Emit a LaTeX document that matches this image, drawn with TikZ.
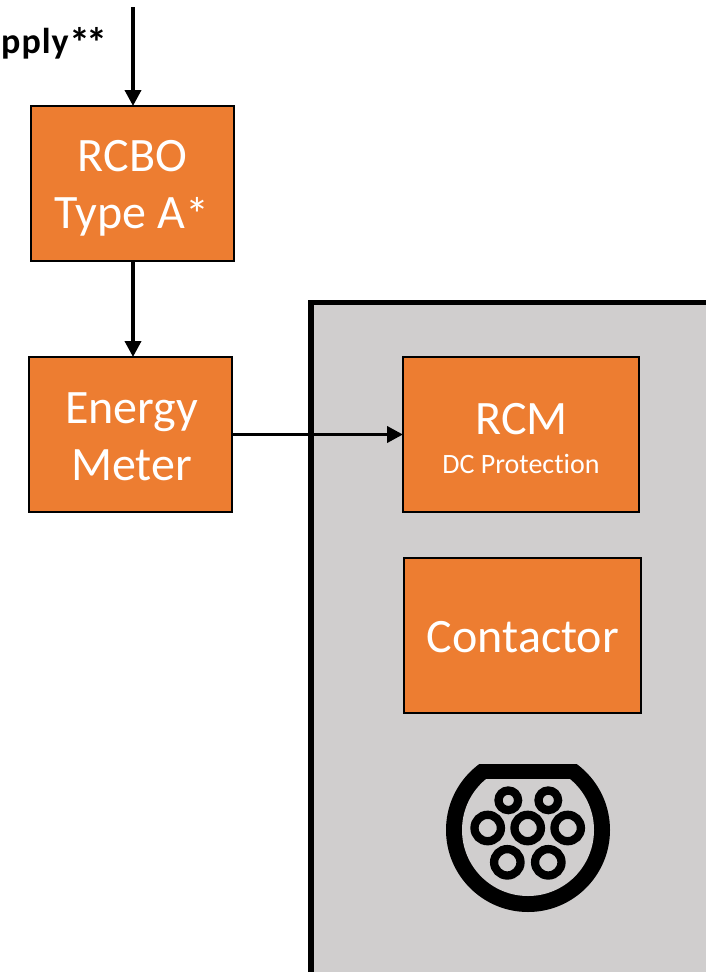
\documentclass[tikz,border=0pt]{standalone}
\usepackage{fontspec}
\setmainfont[Ligatures=NoCommon]{Carlito}
\usetikzlibrary{arrows.meta}
\definecolor{orangebox}{HTML}{ED7D31}
\definecolor{panelgray}{HTML}{D0CECE}
\tikzset{
  blockbox/.style={draw=black,fill=orangebox,line width=2.8pt,outer sep=0pt,inner sep=0pt,
    text=white,align=center,font=\fontsize{48}{56}\selectfont},
  blocktext/.style={text=white,font=\fontsize{48}{56}\selectfont,anchor=base,inner sep=0pt},
  flow/.style={draw=black,line width=3.8pt,-{Triangle[length=16pt,width=16pt]}},
  pinring/.style={draw=black,fill=panelgray}
}
\begin{document}
\begin{tikzpicture}[x=1pt,y=-1pt]
\useasboundingbox (0,0) rectangle (705,972);
% enclosure
\path[draw=black,fill=panelgray,line width=5.2pt] (720,302.5) -- (311,302.5) -- (311,990) -- (720,990) -- cycle;
% blocks
\node[blockbox,minimum width=203pt,minimum height=155pt] (rcbo) at (132.5,183.5) {};
\node[blocktext] (rcbotext) at (132.5,171) {RCBO};
\node[blocktext] (typetext) at (132,228) {Type A\raisebox{-3pt}{*}};
\node[blockbox,minimum width=203pt,minimum height=155pt] (meter) at (130.5,434.5) {};
\node[blocktext] (metertexta) at (131.5,423) {Energy};
\node[blocktext] (metertextb) at (131.5,480) {Meter};
\node[blockbox,minimum width=236pt,minimum height=155pt] (rcm) at (521,434.5) {};
\node[blocktext] (rcmtitle) at (521.5,434) {RCM};
\node[text=white,font=\fontsize{28}{30}\selectfont,anchor=base,inner sep=0pt] (rcmsub) at (521,473) {DC Protection};
\node[blockbox,minimum width=237pt,minimum height=155pt] (contactor) at (522.5,635.5) {};
\node[blocktext] (contactortext) at (523,652) {Contactor};
% supply label and arrows
\node[font=\bfseries\fontsize{36}{40}\selectfont,anchor=base west,inner sep=0pt] (supply) at (1,53.5) {p\kern1pt p\kern1pt l\kern1pt y\kern.5pt{\fontsize{42}{44}\selectfont\raisebox{-4pt}{*\kern-3.5pt*}}};
\coordinate (feed) at (133,7);
\draw[flow] (feed) -- (feed |- rcbo.north);
\draw[flow] (feed |- rcbo.south) -- (feed |- meter.north);
\draw[flow] (meter.east) -- (rcm.west);
% charging socket
\begin{scope}
  \clip (440,764) rectangle (620,920);
  \fill[black] (528,830) circle[radius=82];
\end{scope}
\begin{scope}
  \clip (440,779.5) rectangle (620,920);
  \fill[panelgray] (528,830) circle[radius=66];
\end{scope}
\foreach \px in {508.3,548.3}
  \draw[pinring,line width=8.3pt] (\px,800.3) circle[radius=9.8];
\foreach \px in {487.7,527.7,567.7}
  \draw[pinring,line width=8.3pt] (\px,828) circle[radius=13.2];
\foreach \px in {507.3,548.3}
  \draw[pinring,line width=8.3pt] (\px,862.3) circle[radius=13.2];
\end{tikzpicture}
\end{document}
